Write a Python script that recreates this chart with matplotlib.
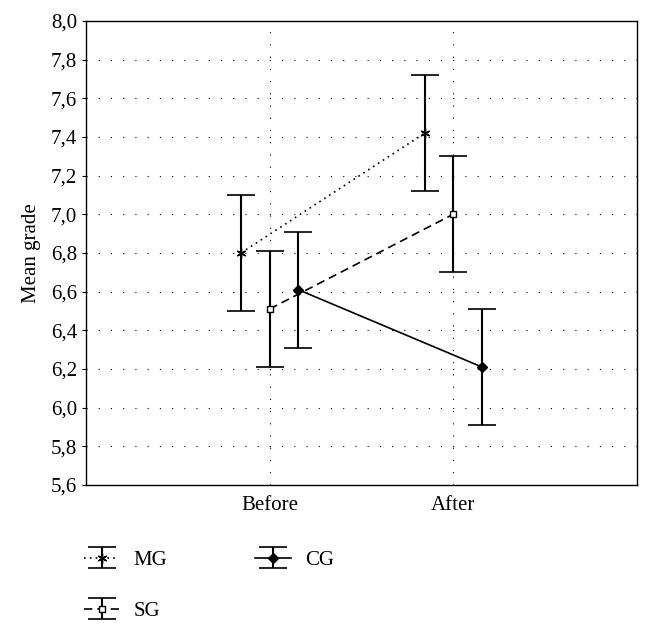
import numpy as np
import matplotlib.pyplot as plt

plt.rcParams['font.family'] = ['Liberation Serif', 'DejaVu Serif']

phases = ['Before', 'After']
groups = ['MG', 'SG', 'CG']
means = {'MG': [6.80, 7.42], 'SG': [6.51, 7.00], 'CG': [6.61, 6.21]}
errs = {'MG': [0.30, 0.30], 'SG': [0.30, 0.30], 'CG': [0.30, 0.30]}
offsets = {'MG': -0.155, 'SG': 0.0, 'CG': 0.155}
styles = {'MG': dict(ls=(0, (1, 2.5)), marker=(6, 2, 0), ms=7, mfc='black'),
          'SG': dict(ls=(0, (5, 3)), marker='s', ms=5, mfc='white'),
          'CG': dict(ls='-', marker='D', ms=5, mfc='black')}

fig = plt.figure(figsize=(6.51, 6.33), dpi=100)
ax = fig.add_axes([0.132, 0.234, 0.8465, 0.733])

x = np.arange(1, len(phases) + 1)
handles = []
for g in groups:
    st = styles[g]
    h = ax.errorbar(x + offsets[g], means[g], yerr=errs[g], color='black', lw=1.2,
                    ls=st['ls'], marker=st['marker'], ms=st['ms'], mfc=st['mfc'],
                    mec='black', capsize=10, capthick=1.2, elinewidth=1.5)
    handles.append(h)

ax.set_xlim(0, 3)
ax.set_ylim(5.6, 8.0)
ax.set_xticks(x)
ax.set_xticklabels(phases)
yt = np.arange(5.6, 8.01, 0.2)
ax.set_yticks(yt)
ax.set_yticklabels([('%.1f' % v).replace('.', ',') for v in yt])
ax.tick_params(axis='both', labelsize=15, direction='out', length=3, width=0.8)
ax.tick_params(axis='x', length=0, pad=8)
ax.grid(True, color='black', ls=(0, (1, 10)), lw=0.8)
for s in ax.spines.values():
    s.set_linewidth(1.0)
ax.set_ylabel('Mean grade', fontsize=15, labelpad=7)

fig.legend(handles, groups, ncol=2, frameon=False, fontsize=15,
           loc='upper left', bbox_to_anchor=(0.1, 0.16),
           columnspacing=4.2, handlelength=1.7, handletextpad=0.7,
           labelspacing=1.5)

fig.savefig('out.png', dpi=100)
